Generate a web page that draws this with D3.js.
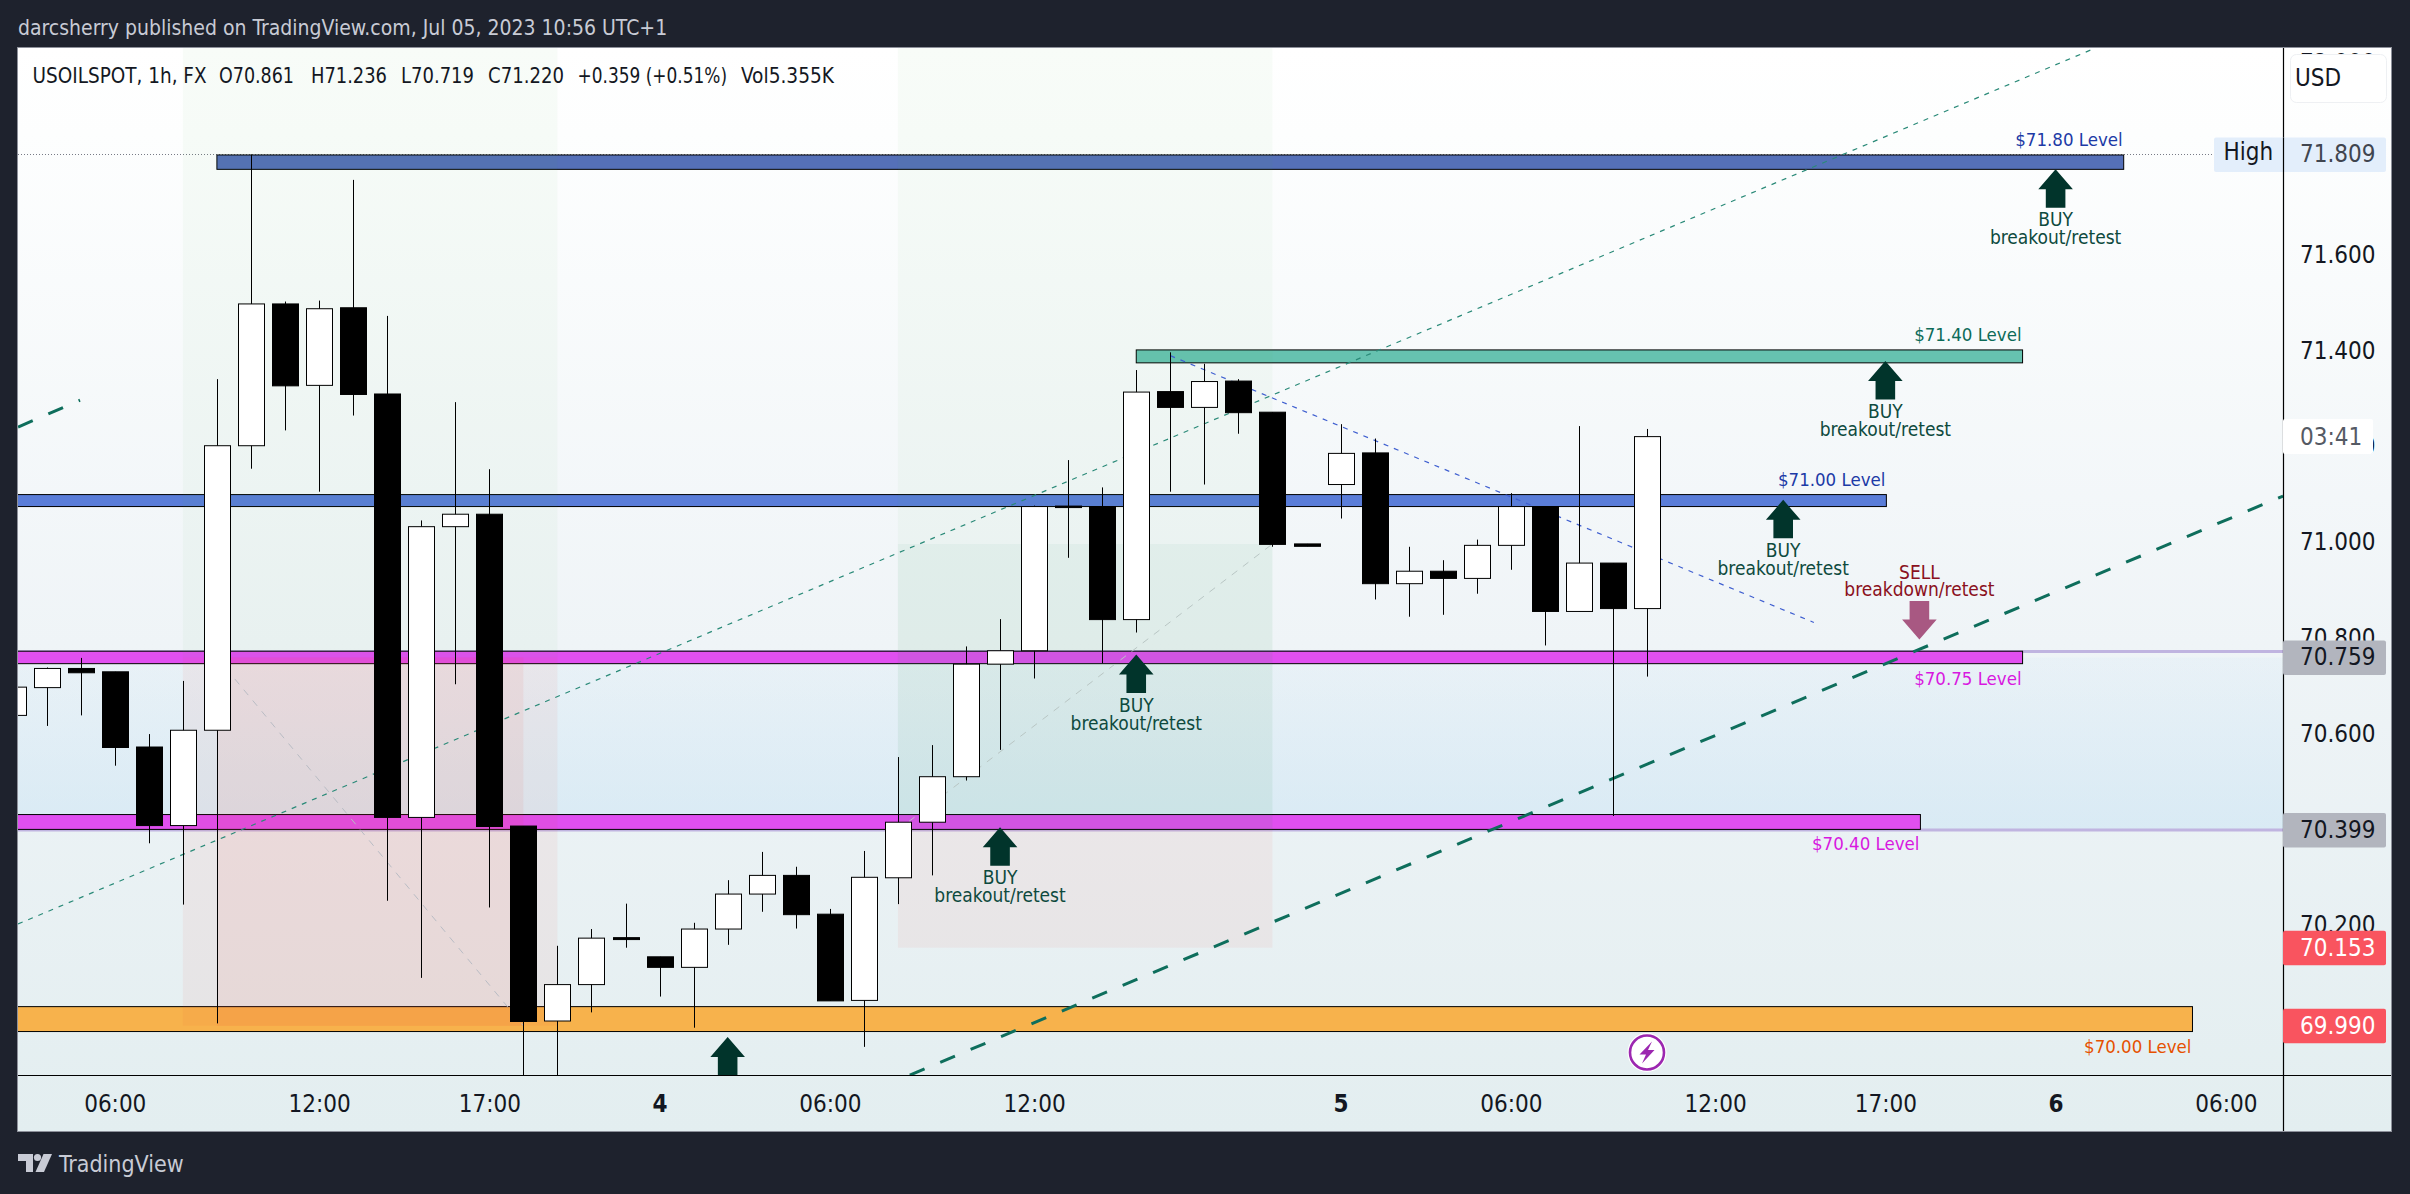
<!DOCTYPE html>
<html><head><meta charset="utf-8">
<script src="https://cdn.jsdelivr.net/npm/d3@7/dist/d3.min.js"></script>
<style>
html,body{margin:0;padding:0;background:#1e222d;overflow:hidden}
text{font-family:'DejaVu Sans Condensed','DejaVu Sans',sans-serif;font-stretch:condensed}
</style></head><body><svg id="c" width="2410" height="1194"></svg>
<script>
// ---- candle values: [open, high, low, close], one row per hourly bar ----
const candles = [
[70.638,70.700,70.600,70.697],[70.696,70.738,70.616,70.736],[70.736,70.758,70.638,70.727],[70.729,70.729,70.533,70.571],
[70.572,70.599,70.371,70.408],[70.408,70.710,70.243,70.607],[70.607,71.340,69.995,71.201],[71.201,71.809,71.153,71.497],
[71.497,71.502,71.233,71.326],[71.327,71.504,71.105,71.487],[71.489,71.756,71.264,71.308],[71.309,71.472,70.251,70.425],
[70.425,71.045,70.090,71.032],[71.032,71.292,70.703,71.058],[71.058,71.152,70.237,70.406],[70.407,70.407,69.870,69.999],
[70.000,70.157,69.870,70.076],[70.076,70.192,70.018,70.173],[70.174,70.245,70.153,70.170],[70.134,70.134,70.051,70.112],
[70.112,70.205,69.986,70.192],[70.192,70.294,70.159,70.265],[70.265,70.353,70.228,70.304],[70.304,70.322,70.193,70.222],
[70.223,70.234,70.042,70.042],[70.043,70.355,69.946,70.300],[70.299,70.551,70.244,70.415],[70.415,70.576,70.304,70.510],
[70.510,70.782,70.502,70.745],[70.745,70.839,70.566,70.773],[70.773,71.076,70.715,71.074],[71.075,71.171,70.967,71.074],
[71.074,71.114,70.747,70.838],[70.838,71.359,70.811,71.313],[71.314,71.396,71.105,71.281],[71.281,71.372,71.120,71.335],
[71.336,71.340,71.226,71.270],[71.271,71.271,70.990,70.995],[70.996,70.996,70.991,70.991],[71.120,71.246,71.049,71.185],
[71.186,71.216,70.880,70.913],[70.913,70.990,70.844,70.939],[70.939,70.962,70.848,70.924],[70.924,71.005,70.892,70.993],
[70.993,71.102,70.942,71.074],[71.074,71.074,70.784,70.855],[70.855,71.242,70.855,70.956],[70.956,70.956,70.428,70.861],
[70.861,71.236,70.719,71.220]];
// ---- axis ticks ----
const priceTicks = [72.0,71.8,71.6,71.4,71.2,71.0,70.8,70.6,70.4,70.2,70.0];
const timeBars  = [3,9,14,19,24,30,39,44,50,55,60,65];
const timeNames = ['06:00','12:00','17:00','4','06:00','12:00','5','06:00','12:00','17:00','6','06:00'];
// ---- level bands: [name, fromBar, toBar, lowPrice, highPrice, fill, labelColour, labelBelow] ----
const levels = [
['$71.80 Level',6,62.0,71.778,71.808,'#5570b8','#1c3aa6',false],
['$71.40 Level',33,59.03,71.374,71.401,'#66c2b0','#0d6b58',false],
['$71.00 Level',-1,55.03,71.074,71.099,'#5a7dd8','#1c3aa6',false],
['$70.75 Level',-1,59.03,70.746,70.772,'#e04ff0','#d818e0',true],
['$70.40 Level',-1,56.03,70.400,70.431,'#e04ff0','#d818e0',true],
['$70.00 Level',-1,64.02,69.978,70.030,'#f7b24c','#e65100',true]];
// ---- position tools: [fromBar, toBar, lowPrice, highPrice, fill] ----
const zones = [
[5,16,70.759,72.1,'rgba(76,175,80,0.04)'],
[5,16,69.990,70.759,'rgba(244,67,54,0.06)'],
[6,15,69.990,70.759,'rgba(244,67,54,0.075)'],
[26,37,70.399,72.1,'rgba(76,175,80,0.04)'],
[26,37,70.399,70.996,'rgba(30,140,100,0.045)'],
[26,37,70.153,70.399,'rgba(244,67,54,0.06)']];
// ---- drawn lines: [bar1, price1, bar2, price2, colour, width, dash] ----
const trendLines = [
[0.16,70.2025,61.16,72.031,'#2a8a78',1.2,'5 6'],
[26.35,69.887,66.68,71.096,'#0e6e5c',3,'16 17'],
[0.16,71.240,1.98,71.296,'#0e6e5c',3,'16 17'],
[34,71.389,52.9,70.832,'#3f5fd0',1.2,'5 6'],
[6,70.759,15,69.990,'#b9bcc4',1,'7 7'],
[26,70.399,37,70.996,'#b9c6c4',1,'7 7']];
// ---- arrows with captions: [bar, tipPrice, caption1, caption2] ----
const buyArrows = [
[60,71.778,'BUY','breakout/retest'],
[55,71.378,'BUY','breakout/retest'],
[52,71.088,'BUY','breakout/retest'],
[33,70.765,'BUY','breakout/retest'],
[29,70.4045,'BUY','breakout/retest'],
[21,69.9665,'',''] ];
const sellArrows = [[56,70.7965,'SELL','breakdown/retest']];
// ---- price tags on the axis: [price, text, fill, textColour] ----
const priceTags = [
[70.759,'70.759','#b2b5be','#131722'],
[70.399,'70.399','#b2b5be','#131722'],
[70.153,'70.153','#f9545f','#ffffff'],
[69.990,'69.990','#f9545f','#ffffff']];
const legendParts = [['USOILSPOT, 1h, FX',32.6,174],['O70.861',219,75],['H71.236',311,76],['L70.719',401,73],['C71.220',488,76],['+0.359 (+0.51%)',577.6,149.5],['Vol5.355K',741,93]];
const highPrice = 71.809, rangeLines=[70.759,70.399];

// ---- layout ----
const P={l:18,t:48,r:2283,b:1075,R:2391,B:1131};
const x=d3.scaleLinear().domain([0,65]).range([12.6,2225.85]);
const y=d3.scaleLinear().domain([70,72]).range([1021,63]);
const svg=d3.select('#c');
const defs=svg.append('defs');
const g=defs.append('linearGradient').attr('id','bg').attr('x1',0).attr('x2',0).attr('y1',0).attr('y2',1);
[[0,'#ffffff'],[0.08,'#fdfefe'],[0.55,'#eff4f7'],[1,'#e3eef0']].forEach(s=>g.append('stop').attr('offset',s[0]).attr('stop-color',s[1]));
const g2=defs.append('linearGradient').attr('id','rng').attr('x1',0).attr('x2',0).attr('y1',0).attr('y2',1);
[[0,'#b7dcf5',0.10],[1,'#b7dcf5',0.34]].forEach(s=>g2.append('stop').attr('offset',s[0]).attr('stop-color',s[1]).attr('stop-opacity',s[2]));
defs.append('clipPath').attr('id','plot').append('rect').attr('x',P.l).attr('y',P.t).attr('width',P.r-P.l).attr('height',P.b-P.t);

svg.append('text').attr('x',18).attr('y',28).attr('dominant-baseline','central').attr('font-size',21).attr('fill','#c8cbd5')
  .text('darcsherry published on TradingView.com, Jul 05, 2023 10:56 UTC+1');
svg.append('rect').attr('x',P.l-.5).attr('y',P.t-.5).attr('width',P.R-P.l+1).attr('height',P.B-P.t+1).attr('fill','url(#bg)').attr('stroke','#8d909a').attr('stroke-width',1);

const plot=svg.append('g').attr('clip-path','url(#plot)');
plot.append('rect').attr('x',P.l).attr('width',P.r-P.l).attr('y',y(rangeLines[0])).attr('height',y(rangeLines[1])-y(rangeLines[0])).attr('fill','url(#rng)');
plot.selectAll('.rl').data(rangeLines).join('line').attr('x1',P.l).attr('x2',P.r).attr('y1',d=>y(d)+(d>70.5?-6:0)).attr('y2',d=>y(d)+(d>70.5?-6:0)).attr('stroke','#c0b4e0').attr('stroke-width',3);
plot.append('line').attr('x1',P.l).attr('x2',P.r).attr('y1',Math.round(y(highPrice))+.5).attr('y2',Math.round(y(highPrice))+.5).attr('stroke','#787b86').attr('stroke-width',1).attr('stroke-dasharray','1 2');

plot.selectAll('.lv').data(levels).join('rect').attr('x',d=>x(d[1])).attr('width',d=>x(d[2])-x(d[1]))
  .attr('y',d=>y(d[4])).attr('height',d=>y(d[3])-y(d[4])).attr('fill',d=>d[5]).attr('stroke','#000').attr('stroke-width',1);
plot.selectAll('.zn').data(zones).join('rect').attr('x',d=>x(d[0])).attr('width',d=>x(d[1])-x(d[0]))
  .attr('y',d=>y(d[3])).attr('height',d=>y(d[2])-y(d[3])).attr('fill',d=>d[4]);
plot.selectAll('.tl').data(trendLines).join('line').attr('x1',d=>x(d[0])).attr('y1',d=>y(d[1])).attr('x2',d=>x(d[2])).attr('y2',d=>y(d[3]))
  .attr('stroke',d=>d[4]).attr('stroke-width',d=>d[5]).attr('stroke-dasharray',d=>d[6]);

// candles
const bw=26;
const cg=plot.selectAll('.cd').data(candles).join('g');
cg.append('line').attr('x1',(d,i)=>Math.round(x(i))+.5).attr('x2',(d,i)=>Math.round(x(i))+.5)
  .attr('y1',d=>y(d[1])).attr('y2',d=>y(d[2])).attr('stroke','#000').attr('stroke-width',1);
cg.append('rect').attr('x',(d,i)=>Math.round(x(i))+.5-bw/2).attr('width',bw)
  .attr('y',d=>y(Math.max(d[0],d[3]))).attr('height',d=>Math.max(1.5,Math.abs(y(d[0])-y(d[3]))))
  .attr('fill',d=>d[3]>=d[0]?'#fff':'#000').attr('stroke','#000').attr('stroke-width',1);

// arrows
function arrowPath(cx,tip,dir){ // dir=1 up, dir=-1 down
  const a=[[0,0],[17.3,20*1],[9.8,20],[9.8,38.5],[-9.8,38.5],[-9.8,20],[-17.3,20]];
  return d3.line()(a.map(p=>[cx+p[0],tip+dir*p[1]]))+'Z';
}
const ink='#01342b';
plot.selectAll('.ba').data(buyArrows).join('path').attr('d',d=>arrowPath(x(d[0]),y(d[1]),1)).attr('fill',ink);
plot.selectAll('.sa').data(sellArrows).join('path').attr('d',d=>arrowPath(x(d[0]),y(d[1]),-1)).attr('fill','#a85882');
const captions=svg.append('g').attr('font-size',19).attr('text-anchor','middle');
buyArrows.filter(d=>d[2]).forEach(d=>{const t=y(d[1]);
  captions.append('text').attr('x',x(d[0])).attr('y',t+50).attr('fill','#0e4a3e').attr('dominant-baseline','central').text(d[2]);
  captions.append('text').attr('x',x(d[0])).attr('y',t+68).attr('fill','#0e4a3e').attr('dominant-baseline','central').text(d[3]);});
sellArrows.forEach(d=>{const t=y(d[1]);
  captions.append('text').attr('x',x(d[0])).attr('y',t-67.5).attr('fill','#8a1020').attr('dominant-baseline','central').text(d[2]);
  captions.append('text').attr('x',x(d[0])).attr('y',t-50).attr('fill','#8a1020').attr('dominant-baseline','central').text(d[3]);});
// level labels
svg.append('g').selectAll('text').data(levels).join('text').attr('font-size',18.5).attr('text-anchor','end').attr('dominant-baseline','central')
  .attr('x',d=>x(d[2])-1).attr('y',d=>d[7]?y(d[3])+14.5:y(d[4])-15).attr('fill',d=>d[6]).text(d=>d[0]);

// lightning mark
const lx=x(48),ly=1052.5;
const li=svg.append('g');
li.append('circle').attr('cx',lx).attr('cy',ly).attr('r',19.5).attr('fill','#fff');
li.append('circle').attr('cx',lx).attr('cy',ly).attr('r',17).attr('fill','#fff').attr('stroke','#9c27b0').attr('stroke-width',2.6);
li.append('path').attr('d',`M${lx+5} ${ly-11}L${lx-7.5} ${ly+2}L${lx-1} ${ly+2}L${lx-5} ${ly+11}L${lx+7.5} ${ly-2.5}L${lx+1} ${ly-2.5}Z`).attr('fill','#9c27b0');

// legend
svg.append('g').selectAll('text').data(legendParts).join('text').attr('x',d=>d[1]).attr('y',75.8).attr('dominant-baseline','central')
  .attr('font-size',20.5).attr('fill','#131722').attr('textLength',d=>d[2]).attr('lengthAdjust','spacingAndGlyphs').text(d=>d[0]);

// axes
const yAxis=d3.axisRight(y).tickValues(priceTicks).tickFormat(d3.format('.3f')).tickSize(0).tickPadding(0);
const ya=svg.append('g').attr('transform',`translate(${P.r+17},0)`).call(yAxis);
ya.select('.domain').remove();
ya.selectAll('text').attr('font-size',24).attr('fill','#131722').attr('font-family',null);
const xAxis=d3.axisBottom(x).tickValues(timeBars).tickFormat((d,i)=>timeNames[i]).tickSize(0).tickPadding(0);
const xa=svg.append('g').attr('transform',`translate(0,${P.b+20})`).call(xAxis);
xa.select('.domain').remove();
xa.selectAll('text').attr('font-size',24).attr('fill','#131722').attr('font-family',null)
  .attr('font-weight',(d,i)=>/^\d$/.test(timeNames[i])?'700':'400');
svg.append('line').attr('x1',P.r+.5).attr('x2',P.r+.5).attr('y1',P.t).attr('y2',P.B).attr('stroke','#000').attr('stroke-width',1.2);
svg.append('line').attr('x1',P.l).attr('x2',P.R).attr('y1',P.b+.5).attr('y2',P.b+.5).attr('stroke','#000').attr('stroke-width',1.2);

// USD box
svg.append('rect').attr('x',2290.5).attr('y',54.5).attr('width',96).attr('height',48).attr('rx',6).attr('fill','#fff').attr('stroke','#eef0f3').attr('stroke-width',1);
svg.append('text').attr('x',2295).attr('y',78).attr('dominant-baseline','central').attr('font-size',24).attr('fill','#131722').text('USD');

// tags
const hy=y(highPrice);
svg.append('rect').attr('x',2214).attr('y',hy-17).attr('width',172).attr('height',34.5).attr('rx',2).attr('fill','#e3eefb');
svg.append('line').attr('x1',P.r+.5).attr('x2',P.r+.5).attr('y1',hy-17).attr('y2',hy+17.5).attr('stroke','#000').attr('stroke-width',1.2);
svg.append('text').attr('x',2223.5).attr('y',hy-2).attr('dominant-baseline','central').attr('font-size',24).attr('fill','#131722').text('High');
svg.append('text').attr('x',P.r+17).attr('y',hy).attr('dominant-baseline','central').attr('font-size',24).attr('fill','#40454f').text(d3.format('.3f')(highPrice));
svg.append('rect').attr('x',P.r).attr('y',419).attr('width',90).attr('height',35).attr('rx',2).attr('fill','#fff');
svg.append('text').attr('x',P.r+17).attr('y',437).attr('dominant-baseline','central').attr('font-size',24).attr('fill','#555a64').text('03:41');
svg.append('g').selectAll('rect').data(priceTags).join('rect').attr('x',P.r).attr('y',d=>y(d[0])-17).attr('width',103).attr('height',34.5).attr('rx',2).attr('fill',d=>d[2]);
svg.append('g').selectAll('text').data(priceTags).join('text').attr('x',P.r+17).attr('y',d=>y(d[0])).attr('dominant-baseline','central').attr('font-size',24).attr('fill',d=>d[3]).text(d=>d[1]);

// footer
const fc='#c8cbd5';
const lg=svg.append('g').attr('fill',fc);
lg.append('path').attr('d','M18 1154H33V1172H26V1161H18Z');
lg.append('circle').attr('cx',37.5).attr('cy',1157.5).attr('r',3.6);
lg.append('path').attr('d','M43.5 1154H52L44 1172H35.5Z');
svg.append('text').attr('x',59).attr('y',1164).attr('dominant-baseline','central').attr('font-size',23).attr('fill',fc).text('TradingView');
</script></body></html>
